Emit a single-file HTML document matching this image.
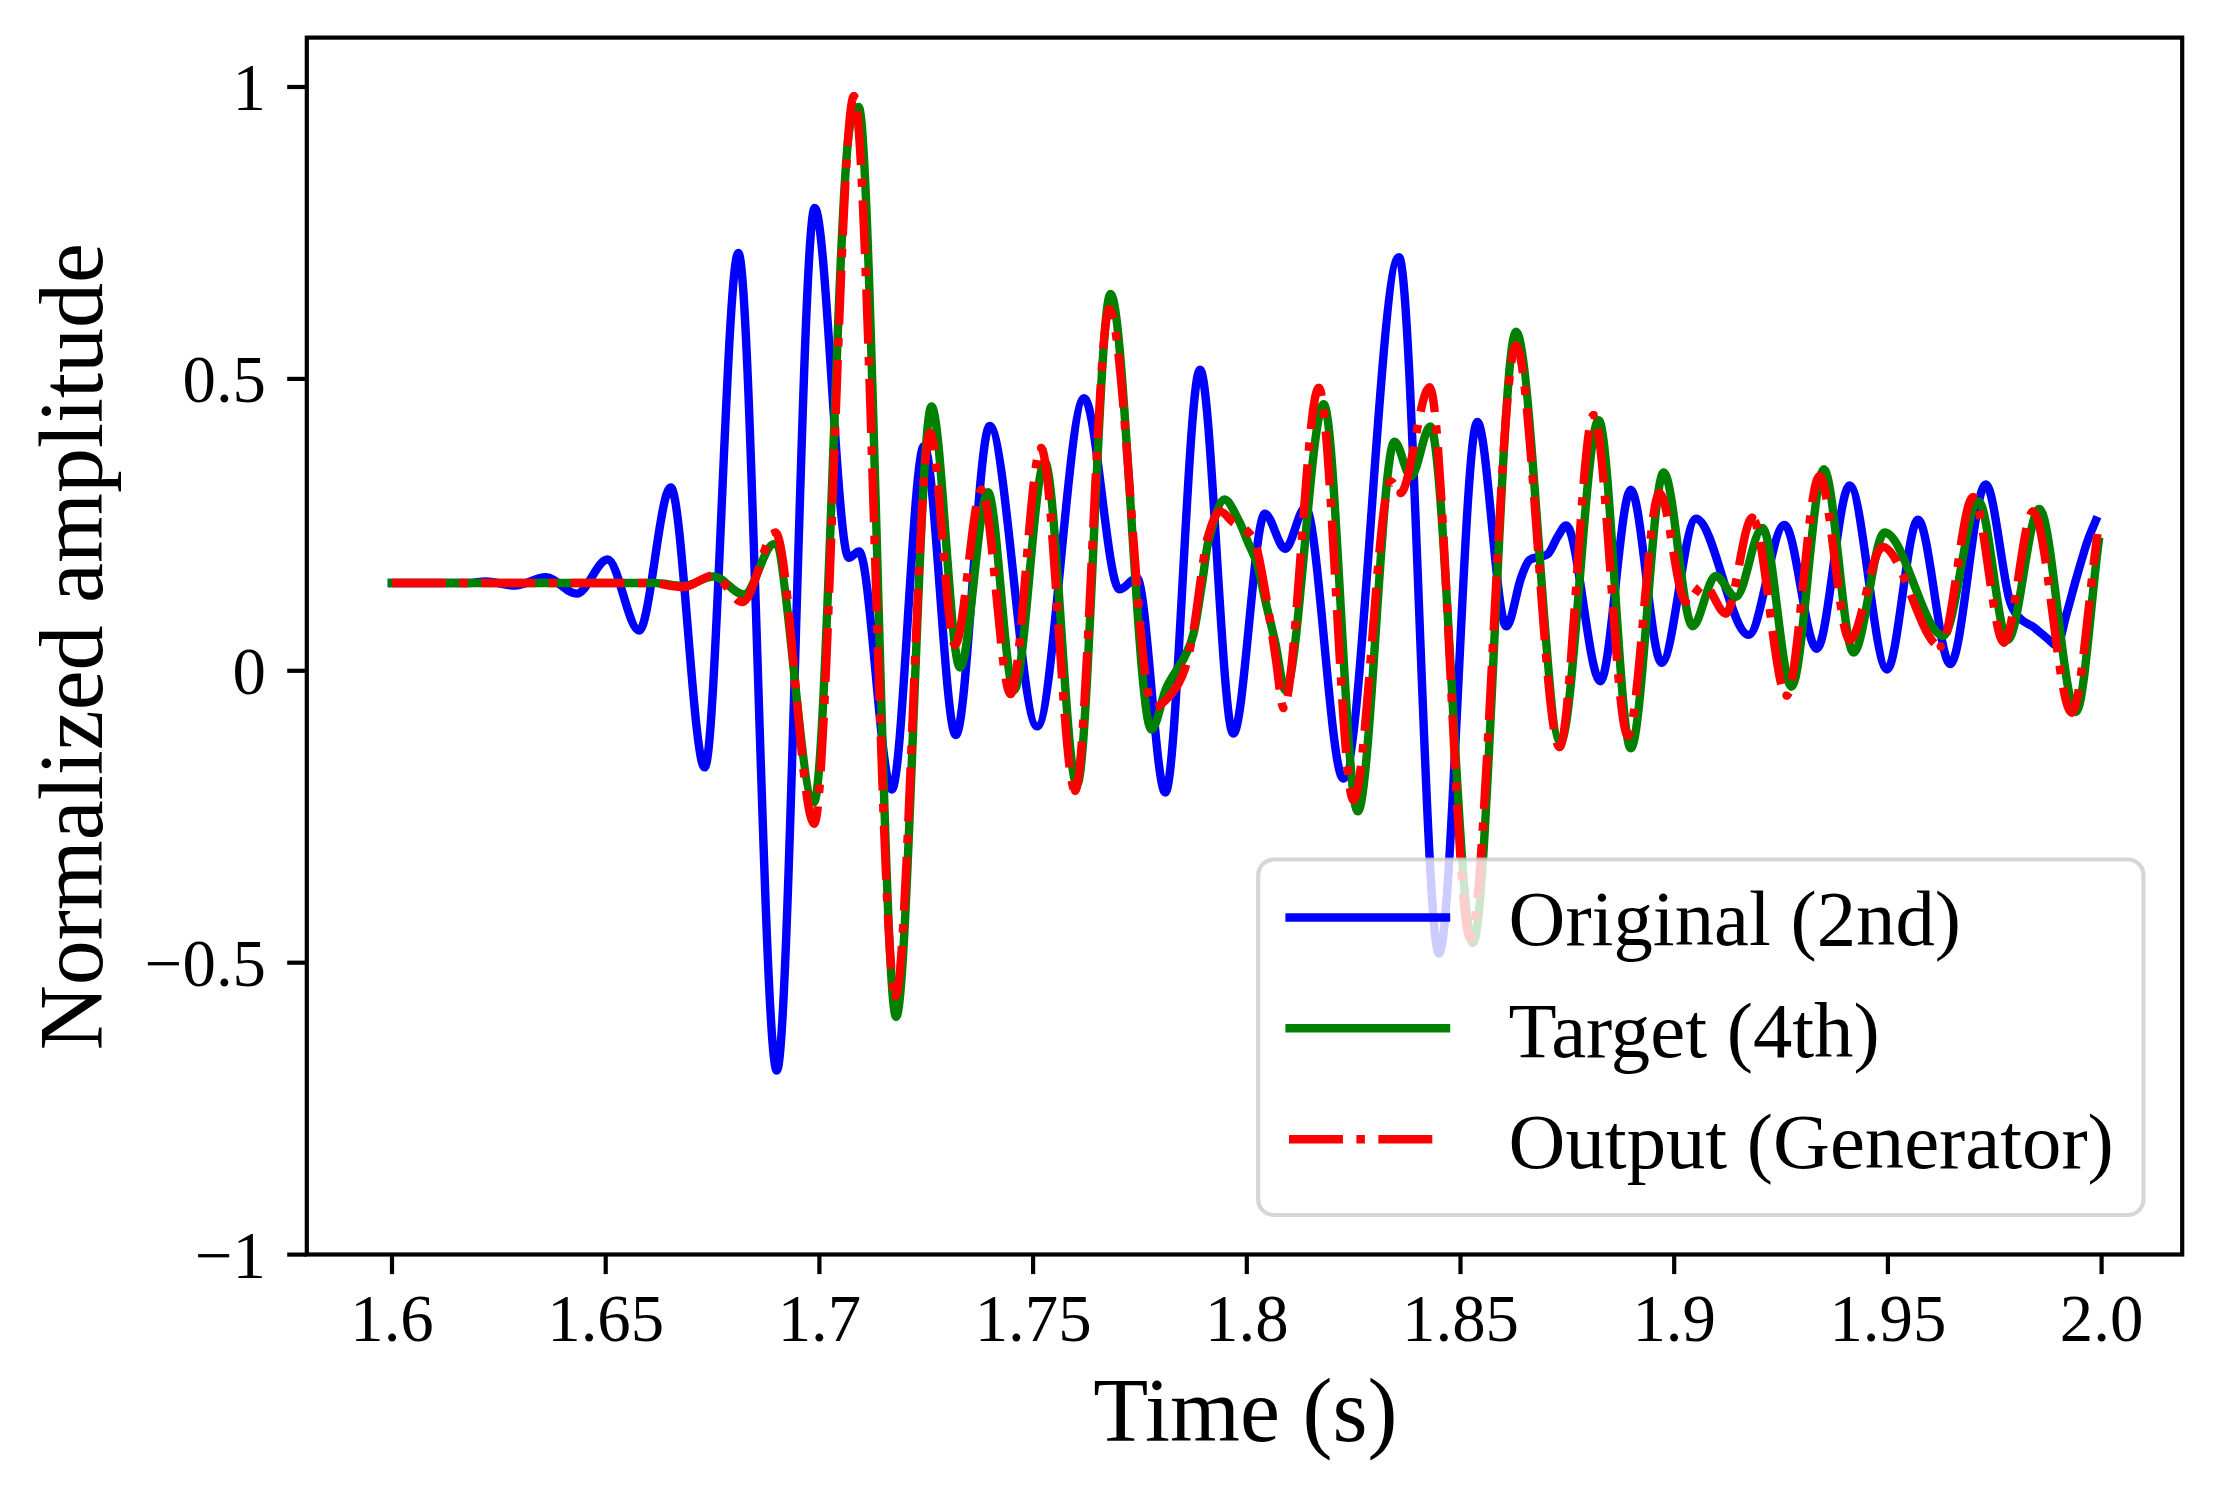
<!DOCTYPE html>
<html lang="en"><head><meta charset="utf-8"><title>Normalized amplitude vs. time</title>
<style>html,body{margin:0;padding:0;background:#fff}body{width:2215px;height:1487px;overflow:hidden}svg{display:block}text{font-family:"Liberation Serif","Times New Roman",Times,serif;fill:#000}</style></head><body>
<svg width="2215" height="1487" viewBox="0 0 2215 1487">
<rect x="0" y="0" width="2215" height="1487" fill="#fff"/>
<defs><clipPath id="plotclip"><rect x="306.8" y="37.6" width="1875.4" height="1216.9"/></clipPath></defs>
<g clip-path="url(#plotclip)" fill="none" stroke-width="8.43" stroke-linejoin="round">
<path d="M391.9 583.0C417.9 583.0 444.0 583.0 470.0 583.0C475.2 583.0 480.4 581.5 485.6 581.5C495.4 581.5 505.2 585.5 515.0 585.5C525.3 585.5 535.5 577.3 545.8 577.3C556.1 577.3 566.4 593.6 576.7 593.6C587.0 593.6 597.2 559.5 607.5 559.5C618.0 559.5 628.6 630.5 639.1 630.5C649.6 630.5 660.2 487.5 670.7 487.5C682.0 487.5 693.4 767.4 704.7 767.4C715.9 767.4 727.1 253.0 738.3 253.0C751.1 253.0 764.0 1070.6 776.8 1070.6C789.4 1070.6 802.1 208.0 814.7 208.0C826.1 208.0 837.4 557.8 848.8 557.8C852.2 557.8 855.6 551.5 859.0 551.5C869.9 551.5 880.9 789.5 891.8 789.5C902.5 789.5 913.3 446.0 924.0 446.0C934.6 446.0 945.2 735.0 955.8 735.0C967.1 735.0 978.4 426.0 989.7 426.0C1005.5 426.0 1021.4 726.4 1037.2 726.4C1052.9 726.4 1068.5 398.2 1084.2 398.2C1095.9 398.2 1107.7 589.4 1119.4 589.4C1125.3 589.4 1131.1 578.0 1137.0 578.0C1146.4 578.0 1155.9 792.5 1165.3 792.5C1176.9 792.5 1188.4 369.7 1200.0 369.7C1211.1 369.7 1222.2 733.6 1233.3 733.6C1243.8 733.6 1254.4 513.8 1264.9 513.8C1271.7 513.8 1278.4 548.7 1285.2 548.7C1291.9 548.7 1298.7 507.5 1305.4 507.5C1318.0 507.5 1330.7 778.6 1343.3 778.6C1361.8 778.6 1380.4 257.1 1398.9 257.1C1412.3 257.1 1425.6 953.5 1439.0 953.5C1451.8 953.5 1464.5 422.0 1477.3 422.0C1487.0 422.0 1496.7 626.4 1506.4 626.4C1511.3 626.4 1516.1 592.0 1521.0 578.0C1523.8 569.9 1526.7 562.3 1529.5 560.0C1532.7 557.5 1535.8 557.8 1539.0 557.0C1542.0 556.2 1545.0 556.4 1548.0 554.0C1551.2 551.5 1554.3 542.0 1557.5 537.0C1560.4 532.5 1563.3 525.5 1566.2 525.5C1577.6 525.5 1589.0 681.2 1600.4 681.2C1610.5 681.2 1620.7 489.8 1630.8 489.8C1641.1 489.8 1651.3 662.8 1661.6 662.8C1673.1 662.8 1684.5 518.7 1696.0 518.7C1713.5 518.7 1731.1 634.9 1748.6 634.9C1760.6 634.9 1772.5 524.9 1784.5 524.9C1795.3 524.9 1806.0 648.8 1816.8 648.8C1827.8 648.8 1838.7 485.5 1849.7 485.5C1862.2 485.5 1874.6 669.5 1887.1 669.5C1897.4 669.5 1907.7 519.8 1918.0 519.8C1928.8 519.8 1939.5 664.0 1950.3 664.0C1962.1 664.0 1973.9 484.4 1985.7 484.4C1993.5 484.4 2001.2 567.0 2009.0 598.0C2012.3 611.3 2015.7 613.5 2019.0 617.4C2024.1 623.4 2029.2 623.8 2034.3 627.6C2039.3 631.4 2044.4 636.2 2049.4 640.2C2051.9 642.2 2054.3 645.5 2056.8 645.5C2060.0 645.5 2063.3 625.1 2066.5 614.0C2069.8 602.6 2073.1 589.5 2076.4 578.0C2080.0 565.5 2083.6 552.7 2087.2 542.0C2090.1 533.5 2092.9 527.7 2095.8 520.5" stroke="#0000ff" stroke-linecap="square"/>
<path d="M391.9 583.0C479.6 583.0 567.3 583.0 655.0 583.0C664.3 583.0 673.7 586.0 683.0 586.0C693.2 586.0 703.4 576.5 713.6 576.5C723.7 576.5 733.8 594.5 743.9 594.5C754.0 594.5 764.1 543.9 774.2 543.9C787.5 543.9 800.7 802.0 814.0 802.0C825.9 802.0 837.7 199.2 849.6 128.0C852.6 110.0 855.6 106.9 858.6 106.9C871.1 106.9 883.6 1016.8 896.1 1016.8C907.9 1016.8 919.7 406.5 931.5 406.5C941.0 406.5 950.5 667.5 960.0 667.5C969.3 667.5 978.6 492.3 987.9 492.3C996.6 492.3 1005.3 690.0 1014.0 690.0C1024.3 690.0 1034.5 462.0 1044.8 462.0C1055.5 462.0 1066.3 785.0 1077.0 785.0C1088.2 785.0 1099.3 294.0 1110.5 294.0C1124.2 294.0 1137.8 729.5 1151.5 729.5C1156.4 729.5 1161.4 698.8 1166.3 688.0C1172.4 674.7 1178.4 669.1 1184.5 657.0C1187.5 650.9 1190.6 646.5 1193.6 633.5C1196.6 620.5 1199.7 598.0 1202.7 579.0C1204.5 567.7 1206.3 549.3 1208.1 542.7C1213.6 522.8 1219.0 499.5 1224.5 499.5C1229.3 499.5 1234.2 512.2 1239.0 521.0C1242.0 526.6 1245.1 535.5 1248.1 542.7C1251.1 550.0 1254.2 554.2 1257.2 564.5C1260.2 574.7 1263.2 591.5 1266.2 604.4C1269.2 617.5 1272.3 629.0 1275.3 642.6C1278.6 657.5 1282.0 690.0 1285.3 690.0C1298.1 690.0 1311.0 404.3 1323.8 404.3C1335.1 404.3 1346.4 811.4 1357.7 811.4C1370.0 811.4 1382.2 441.8 1394.5 441.8C1400.0 441.8 1405.5 476.5 1411.0 476.5C1417.4 476.5 1423.9 426.5 1430.3 426.5C1444.5 426.5 1458.8 943.0 1473.0 943.0C1487.3 943.0 1501.7 331.7 1516.0 331.7C1530.8 331.7 1545.7 742.0 1560.5 742.0C1573.2 742.0 1586.0 420.2 1598.7 420.2C1609.4 420.2 1620.1 748.2 1630.8 748.2C1641.8 748.2 1652.7 472.5 1663.7 472.5C1673.3 472.5 1683.0 626.2 1692.6 626.2C1700.3 626.2 1708.0 576.0 1715.7 576.0C1722.4 576.0 1729.2 597.0 1735.9 597.0C1744.8 597.0 1753.6 527.9 1762.5 527.9C1772.2 527.9 1781.8 686.7 1791.5 686.7C1802.3 686.7 1813.1 469.3 1823.9 469.3C1833.8 469.3 1843.6 652.6 1853.5 652.6C1863.9 652.6 1874.2 532.5 1884.6 532.5C1904.1 532.5 1923.7 635.7 1943.2 635.7C1955.0 635.7 1966.8 501.4 1978.6 501.4C1988.3 501.4 1998.0 640.0 2007.7 640.0C2018.2 640.0 2028.8 509.0 2039.3 509.0C2051.5 509.0 2063.8 712.0 2076.0 712.0C2083.6 712.0 2091.1 598.4 2098.7 541.6" stroke="#008000" stroke-linecap="square"/>
<g stroke="#ff0000" stroke-linecap="butt" stroke-dasharray="53.95 13.49 8.43 13.49">
<path d="M391.9 583.0C477.9 583.0 564.0 583.0 650.0 583.0C661.1 583.0 672.1 587.0 683.2 587.0C693.3 587.0 703.5 575.5 713.6 575.5C723.3 575.5 732.9 602.0 742.6 602.0" stroke-dashoffset="0.0"/>
<path d="M742.6 602.0C753.6 602.0 764.5 532.8 775.5 532.8" stroke-dashoffset="13.8"/>
<path d="M775.5 532.8C788.4 532.8 801.3 823.6 814.2 823.6" stroke-dashoffset="7.7"/>
<path d="M814.2 823.6C827.4 823.6 840.7 96.3 853.9 96.3" stroke-dashoffset="36.1"/>
<path d="M853.9 96.3C867.8 96.3 881.7 996.0 895.6 996.0" stroke-dashoffset="73.9"/>
<path d="M895.6 996.0C907.1 996.0 918.5 433.0 930.0 433.0" stroke-dashoffset="3.2"/>
<path d="M930.0 433.0C938.3 433.0 946.7 644.8 955.0 644.8" stroke-dashoffset="35.8"/>
<path d="M955.0 644.8C963.9 644.8 972.7 489.8 981.6 489.8" stroke-dashoffset="2.6"/>
<path d="M981.6 489.8C991.3 489.8 1000.9 694.0 1010.6 694.0" stroke-dashoffset="77.4"/>
<path d="M1010.6 694.0C1020.7 694.0 1030.9 448.0 1041.0 448.0" stroke-dashoffset="18.6"/>
<path d="M1041.0 448.0C1052.4 448.0 1063.7 790.7 1075.1 790.7" stroke-dashoffset="0.9"/>
<path d="M1075.1 790.7C1086.5 790.7 1097.9 309.2 1109.3 309.2" stroke-dashoffset="3.9"/>
<path d="M1109.3 309.2C1123.9 309.2 1138.4 708.0 1153.0 708.0" stroke-dashoffset="43.3"/>
<path d="M1153.0 708.0C1159.3 708.0 1165.5 701.0 1171.8 693.4C1176.0 688.3 1180.3 682.1 1184.5 669.8C1187.5 661.0 1190.6 646.9 1193.6 630.0C1196.0 616.6 1198.4 595.1 1200.8 579.0C1202.9 565.1 1204.9 547.3 1207.0 540.0C1211.3 524.8 1215.6 511.4 1219.9 511.4" stroke-dashoffset="86.3"/>
<path d="M1219.9 511.4C1224.4 511.4 1229.0 519.3 1233.5 522.7C1238.7 526.5 1243.8 527.0 1249.0 533.0C1251.7 536.1 1254.5 539.2 1257.2 550.0C1260.8 564.2 1264.4 586.9 1268.0 608.0C1270.7 623.6 1273.3 642.8 1276.0 660.0C1278.5 676.1 1281.0 708.0 1283.5 708.0" stroke-dashoffset="35.7"/>
<path d="M1283.5 708.0C1295.3 708.0 1307.0 387.9 1318.8 387.9" stroke-dashoffset="76.6"/>
<path d="M1318.8 387.9C1330.3 387.9 1341.9 800.0 1353.4 800.0" stroke-dashoffset="44.9"/>
<path d="M1353.4 800.0C1365.9 800.0 1378.3 481.5 1390.8 481.5C1394.0 481.5 1397.3 493.0 1400.5 493.0" stroke-dashoffset="18.6"/>
<path d="M1400.5 493.0C1410.2 493.0 1419.9 387.5 1429.6 387.5" stroke-dashoffset="4.7"/>
<path d="M1429.6 387.5C1443.1 387.5 1456.7 938.0 1470.2 938.0" stroke-dashoffset="28.4"/>
<path d="M1470.2 938.0C1485.5 938.0 1500.7 345.6 1516.0 345.6" stroke-dashoffset="48.3"/>
<path d="M1516.0 345.6C1530.5 345.6 1545.0 747.0 1559.5 747.0" stroke-dashoffset="25.3"/>
<path d="M1559.5 747.0C1570.9 747.0 1582.2 415.2 1593.6 415.2" stroke-dashoffset="3.5"/>
<path d="M1593.6 415.2C1605.0 415.2 1616.4 735.6 1627.8 735.6" stroke-dashoffset="74.8"/>
<path d="M1627.8 735.6C1638.3 735.6 1648.9 493.0 1659.4 493.0" stroke-dashoffset="47.8"/>
<path d="M1659.4 493.0C1668.3 493.0 1677.1 602.0 1686.0 602.0" stroke-dashoffset="28.6"/>
<path d="M1686.0 602.0C1692.0 602.0 1698.0 585.0 1704.0 585.0C1711.3 585.0 1718.5 613.4 1725.8 613.4" stroke-dashoffset="55.1"/>
<path d="M1725.8 613.4C1734.6 613.4 1743.5 517.8 1752.3 517.8" stroke-dashoffset="38.7"/>
<path d="M1752.3 517.8C1763.7 517.8 1775.1 695.6 1786.5 695.6" stroke-dashoffset="63.2"/>
<path d="M1786.5 695.6C1797.5 695.6 1808.4 476.1 1819.4 476.1" stroke-dashoffset="72.3"/>
<path d="M1819.4 476.1C1829.5 476.1 1839.6 640.0 1849.7 640.0" stroke-dashoffset="29.0"/>
<path d="M1849.7 640.0C1860.7 640.0 1871.6 546.9 1882.6 546.9" stroke-dashoffset="19.7"/>
<path d="M1882.6 546.9C1902.0 546.9 1921.3 646.5 1940.7 646.5" stroke-dashoffset="32.2"/>
<path d="M1940.7 646.5C1951.5 646.5 1962.3 497.1 1973.1 497.1" stroke-dashoffset="74.9"/>
<path d="M1973.1 497.1C1983.4 497.1 1993.6 642.5 2003.9 642.5" stroke-dashoffset="52.1"/>
<path d="M2003.9 642.5C2013.6 642.5 2023.3 511.5 2033.0 511.5" stroke-dashoffset="26.2"/>
<path d="M2033.0 511.5C2045.9 511.5 2058.8 712.5 2071.7 712.5" stroke-dashoffset="88.9"/>
<path d="M2071.7 712.5C2080.3 712.5 2088.9 593.5 2097.5 534.0" stroke-dashoffset="29.3"/>
</g>
<g clip-path="url(#plotclip)" fill="#ff0000"><circle cx="742.6" cy="602.0" r="4.21"/><circle cx="775.5" cy="532.8" r="4.21"/><circle cx="814.2" cy="823.6" r="4.21"/><circle cx="853.9" cy="96.3" r="4.21"/><circle cx="895.6" cy="996.0" r="4.21"/><circle cx="930.0" cy="433.0" r="4.21"/><circle cx="955.0" cy="644.8" r="4.21"/><circle cx="981.6" cy="489.8" r="4.21"/><circle cx="1010.6" cy="694.0" r="4.21"/><circle cx="1041.0" cy="448.0" r="4.21"/><circle cx="1075.1" cy="790.7" r="4.21"/><circle cx="1109.3" cy="309.2" r="4.21"/><circle cx="1219.9" cy="511.4" r="4.21"/><circle cx="1283.5" cy="708.0" r="4.21"/><circle cx="1318.8" cy="387.9" r="4.21"/><circle cx="1353.4" cy="800.0" r="4.21"/><circle cx="1400.5" cy="493.0" r="4.21"/><circle cx="1429.6" cy="387.5" r="4.21"/><circle cx="1470.2" cy="938.0" r="4.21"/><circle cx="1516.0" cy="345.6" r="4.21"/><circle cx="1559.5" cy="747.0" r="4.21"/><circle cx="1593.6" cy="415.2" r="4.21"/><circle cx="1627.8" cy="735.6" r="4.21"/><circle cx="1659.4" cy="493.0" r="4.21"/><circle cx="1686.0" cy="602.0" r="4.21"/><circle cx="1725.8" cy="613.4" r="4.21"/><circle cx="1752.3" cy="517.8" r="4.21"/><circle cx="1786.5" cy="695.6" r="4.21"/><circle cx="1819.4" cy="476.1" r="4.21"/><circle cx="1849.7" cy="640.0" r="4.21"/><circle cx="1882.6" cy="546.9" r="4.21"/><circle cx="1940.7" cy="646.5" r="4.21"/><circle cx="1973.1" cy="497.1" r="4.21"/><circle cx="2003.9" cy="642.5" r="4.21"/><circle cx="2033.0" cy="511.5" r="4.21"/><circle cx="2071.7" cy="712.5" r="4.21"/></g>
</g>
<g stroke="#000" stroke-width="4.20" fill="none">
<line x1="392.0" y1="1254.5" x2="392.0" y2="1274.1"/>
<line x1="605.7" y1="1254.5" x2="605.7" y2="1274.1"/>
<line x1="819.4" y1="1254.5" x2="819.4" y2="1274.1"/>
<line x1="1033.1" y1="1254.5" x2="1033.1" y2="1274.1"/>
<line x1="1246.8" y1="1254.5" x2="1246.8" y2="1274.1"/>
<line x1="1460.5" y1="1254.5" x2="1460.5" y2="1274.1"/>
<line x1="1674.2" y1="1254.5" x2="1674.2" y2="1274.1"/>
<line x1="1887.9" y1="1254.5" x2="1887.9" y2="1274.1"/>
<line x1="2101.6" y1="1254.5" x2="2101.6" y2="1274.1"/>
<line x1="287.2" y1="87.0" x2="306.8" y2="87.0"/>
<line x1="287.2" y1="378.9" x2="306.8" y2="378.9"/>
<line x1="287.2" y1="670.8" x2="306.8" y2="670.8"/>
<line x1="287.2" y1="962.7" x2="306.8" y2="962.7"/>
<line x1="287.2" y1="1254.6" x2="306.8" y2="1254.6"/>
</g>
<rect x="1258.2" y="859.5" width="885.3" height="355.5" rx="15.8" ry="15.8" fill="#fff" fill-opacity="0.8" stroke="#ccc" stroke-opacity="0.8" stroke-width="4.20"/>
<g fill="none" stroke-width="8.43">
<line x1="1285.4" y1="917.5" x2="1450.2" y2="917.5" stroke="#0000ff"/>
<line x1="1285.4" y1="1028.3" x2="1450.2" y2="1028.3" stroke="#008000"/>
<line x1="1285.4" y1="1139.3" x2="1440.0" y2="1139.3" stroke="#ff0000" stroke-dasharray="53.95 13.49 8.43 13.49" stroke-dashoffset="-3.6"/>
</g>
<g font-size="78.70">
<text x="1508.6" y="945.4">Original (2nd)</text>
<text x="1508.6" y="1056.8">Target (4th)</text>
<text x="1508.6" y="1168.2">Output (Generator)</text>
</g>
<rect x="306.8" y="37.6" width="1875.4" height="1216.9" fill="none" stroke="#000" stroke-width="4.20" stroke-linejoin="miter"/>
<g font-size="66.80" text-anchor="middle">
<text x="392.0" y="1340.5">1.6</text>
<text x="605.7" y="1340.5">1.65</text>
<text x="819.4" y="1340.5">1.7</text>
<text x="1033.1" y="1340.5">1.75</text>
<text x="1246.8" y="1340.5">1.8</text>
<text x="1460.5" y="1340.5">1.85</text>
<text x="1674.2" y="1340.5">1.9</text>
<text x="1887.9" y="1340.5">1.95</text>
<text x="2101.6" y="1340.5">2.0</text>
</g>
<g font-size="66.80" text-anchor="end">
<text x="266.0" y="110.2">1</text>
<text x="266.0" y="402.1">0.5</text>
<text x="266.0" y="694.0">0</text>
<text x="266.0" y="985.9">−0.5</text>
<text x="266.0" y="1277.8">−1</text>
</g>
<text x="1245.3" y="1441.0" font-size="90.00" text-anchor="middle">Time (s)</text>
<text transform="translate(102.0 646.6) rotate(-90)" font-size="90.00" text-anchor="middle">Normalized amplitude</text>
</svg></body></html>
